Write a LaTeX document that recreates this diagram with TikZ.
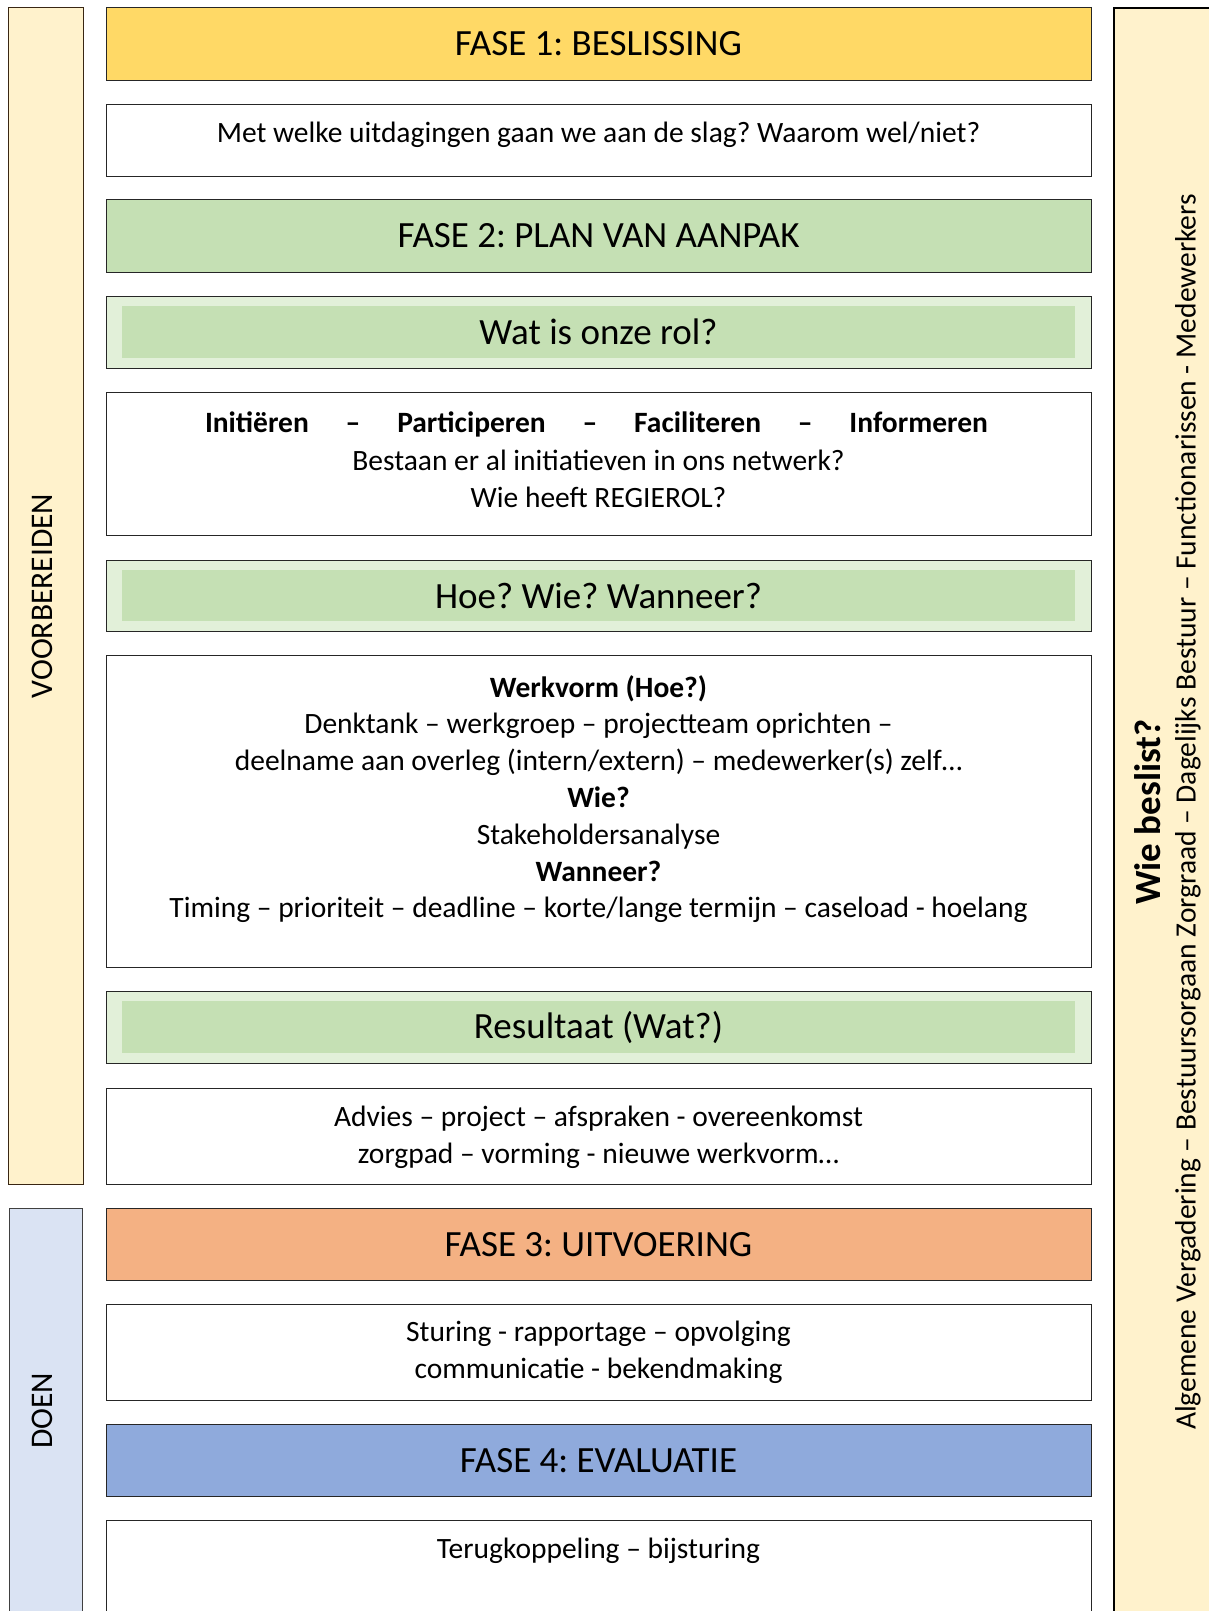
\documentclass[tikz,border=0pt]{standalone}
\usepackage{fontspec}
\setmainfont{Carlito}
\frenchspacing
\definecolor{fyellow}{HTML}{FFD966}
\definecolor{fgreen}{HTML}{C5E0B4}
\definecolor{flgreen}{HTML}{E2F0D9}
\definecolor{forange}{HTML}{F4B183}
\definecolor{fblue}{HTML}{8FAADC}
\definecolor{barcream}{HTML}{FFF2CC}
\definecolor{barblue}{HTML}{DAE3F3}
\begin{document}
\begin{tikzpicture}[x=1pt,y=-1pt,
  box/.style={draw=black!85, line width=1.4pt, inner sep=0pt, anchor=north west, minimum width=985},
  strip/.style={fill=fgreen, draw=none, inner sep=0pt, anchor=north west, minimum width=953},
  head/.style={font=\fontsize{37}{42}\selectfont, inner sep=0pt},
  txt/.style={font=\fontsize{29.5}{36.8}\selectfont, align=center, inner sep=0pt},
  btxt/.style={font=\bfseries\fontsize{29.5}{36.8}\selectfont, align=center, inner sep=0pt},
  sidebar/.style={draw=black!75, line width=1.3pt, inner sep=0pt, anchor=north west, minimum width=75},
]
\clip (0,0) rectangle (1209,1611);
\fill[white] (0,0) rectangle (1209,1611);

% left side bars
\node[sidebar, fill=barcream, draw=black!70!brown, minimum height=1177] (voor) at (8,7) {};
\node[sidebar, fill=barblue, minimum width=73, minimum height=420] (doen) at (9,1208) {};
\node[rotate=90, font=\fontsize{31.5}{36}\selectfont, inner sep=0pt] (voorT) at (42,596) {VOORBEREIDEN};
\node[rotate=90, font=\fontsize{31.5}{36}\selectfont, inner sep=0pt] (doenT) at (42,1411) {DOEN};

% right bar
\node[draw=black, line width=2.2pt, fill=barcream, inner sep=0pt, anchor=north west, minimum width=130, minimum height=1630] (right) at (1113,7) {};
\node[rotate=90, font=\bfseries\fontsize{37}{42}\selectfont, inner sep=0pt] (wie) at (1148,812) {Wie beslist?};
\node[rotate=90, font=\fontsize{29.5}{34}\selectfont, inner sep=0pt] (wieT) at (1188,812) {Algemene Vergadering – Bestuursorgaan Zorgraad – Dagelijks Bestuur – Functionarissen - Medewerkers};

% main boxes
\node[box, fill=fyellow, minimum height=73] (f1) at (106,7) {};
\node[head] (f1t) at (598.5,43.5) {FASE 1: BESLISSING};

\node[box, fill=white, minimum height=72] (b1) at (106,104) {};
\node[txt] (b1t) at (598.5,135) {Met welke uitdagingen gaan we aan de slag? Waarom wel/niet?};

\node[box, fill=fgreen, minimum height=73] (f2) at (106,199) {};
\node[head] (f2t) at (598.5,235.5) {FASE 2: PLAN VAN AANPAK};

\node[box, fill=flgreen, minimum height=72] (r1) at (106,296) {};
\node[strip, minimum height=52] (r1s) at (122,306) {};
\node[head] (r1t) at (598.5,332) {Wat is onze rol?};

\node[box, fill=white, minimum height=143] (b2) at (106,392) {};
\node[btxt, text width=783, align=flush left] (b2a) at (596.5,424) {Initiëren\hfill–\hfill Participeren\hfill–\hfill Faciliteren\hfill–\hfill Informeren};
\node[txt] (b2b) at (598.5,479) {Bestaan er al initiatieven in ons netwerk?\\Wie heeft REGIEROL?};

\node[box, fill=flgreen, minimum height=71] (r2) at (106,560) {};
\node[strip, minimum height=51] (r2s) at (122,570) {};
\node[head] (r2t) at (598.5,596) {Hoe? Wie? Wanneer?};

\node[box, fill=white, minimum height=312] (b3) at (106,655) {};
\node[txt] (b3t) at (598.5,799) {\textbf{Werkvorm (Hoe?)}\\Denktank – werkgroep – projectteam oprichten –\\deelname aan overleg (intern/extern) – medewerker(s) zelf…\\\textbf{Wie?}\\Stakeholdersanalyse\\\textbf{Wanneer?}\\Timing – prioriteit – deadline – korte/lange termijn – caseload - hoelang};

\node[box, fill=flgreen, minimum height=72] (r3) at (106,991) {};
\node[strip, minimum height=52] (r3s) at (122,1001) {};
\node[head] (r3t) at (598.5,1028) {Resultaat (Wat?)};

\node[box, fill=white, minimum height=96] (b4) at (106,1088) {};
\node[txt] (b4t) at (598.5,1137) {Advies – project – afspraken - overeenkomst\\zorgpad – vorming - nieuwe werkvorm…};

\node[box, fill=forange, minimum height=72] (f3) at (106,1208) {};
\node[head] (f3t) at (598.5,1244.5) {FASE 3: UITVOERING};

\node[box, fill=white, minimum height=96] (b5) at (106,1304) {};
\node[txt] (b5t) at (598.5,1352.5) {Sturing - rapportage – opvolging\\communicatie - bekendmaking};

\node[box, fill=fblue, minimum height=72] (f4) at (106,1424) {};
\node[head] (f4t) at (598.5,1460.5) {FASE 4: EVALUATIE};

\node[box, fill=white, minimum height=120] (b6) at (106,1520) {};
\node[txt] (b6t) at (598.5,1551) {Terugkoppeling – bijsturing};
\end{tikzpicture}
\end{document}
